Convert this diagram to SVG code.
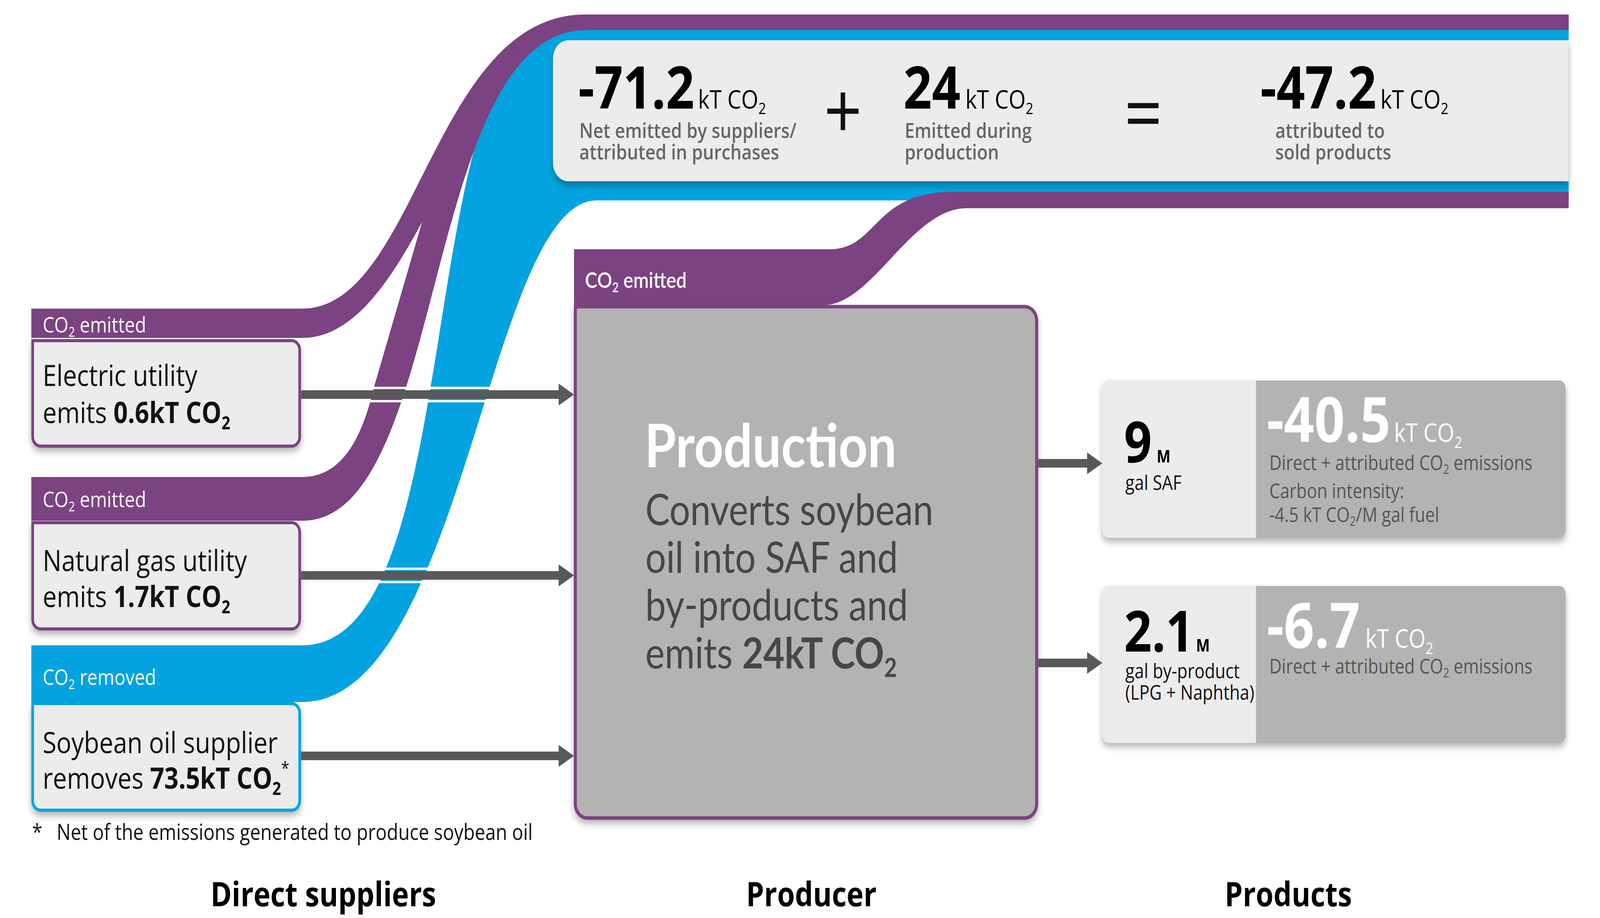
<svg xmlns="http://www.w3.org/2000/svg" width="4800" height="2350" viewBox="0 0 4800 2350" preserveAspectRatio="none">
<defs>
<style>
svg{width:100vw;height:100vh;display:block}
text{font-family:"Open Sans","Noto Sans","DejaVu Sans",sans-serif}
.lato{font-family:Lato,"Open Sans","Noto Sans",sans-serif}
.purple{fill:#7b4381}
.blue{fill:#02a3e0}
.lbl{font-size:55px;fill:#fff}
.sup{font-size:75px;fill:#111}
.big{font-size:150px;font-weight:700;fill:#000}
.unit{font-size:66px;fill:#000}
.desc{font-size:53px;font-weight:600;fill:#666}
.op{font-size:200px;fill:#111;text-anchor:middle}
.pdesc{font-size:51px;fill:#555}
.pbig{font-size:160px;font-weight:700;fill:#fff}
.punit{font-size:66px;fill:#fff}
.qty{font-size:146px;font-weight:700;fill:#000}
.qm{font-size:44px;font-weight:700;fill:#000}
.qd{font-size:51px;fill:#111}
.title{font-size:86px;font-weight:700;fill:#000;text-anchor:middle}
.arrow{stroke:#595959;stroke-width:22;fill:none}
.halo{stroke:#fff;stroke-width:6;fill:none}
.sbox{fill:#ececec;stroke-width:8}
</style>
<marker id="head" markerUnits="userSpaceOnUse" markerWidth="46" markerHeight="56" refX="2" refY="28" orient="auto"><path d="M0,0 L46,28 L0,56 Z" fill="#595959"/></marker>
<filter id="sh" x="-5%" y="-5%" width="110%" height="125%"><feDropShadow dx="0" dy="10" stdDeviation="9" flood-color="#000" flood-opacity="0.3"/></filter>
</defs>
<rect width="4800" height="2350" fill="#fff"/>

<g id="flows">
<path class="blue" d="M94,1652 L907,1652 C1420,1652 1225,60 1700,60 L4706,60 L4706,513 L1790,513 C1468,513 1387,1797 907,1797 L94,1797 Z"/>
<path class="purple" d="M94,790 L907,790 C1250,790 1298,37 1757,37 L4706,37 L4706,77 L1728,77 C1394,77 1264,865 907,865 L94,865 Z"/>
<path class="purple" d="M94,1221 L907,1221 C1030,1221 1088,1115 1123,988 L1269,560 C1330,380 1520,40 1745,40 L4706,40 L4706,77 L1760,77 C1262,77 1345,1333 907,1333 L94,1333 Z"/>
<path class="purple" d="M1722,638 L2490,638 C2633,638 2618,491 2860,491 L4706,491 L4706,533 L2900,533 C2733,533 2618,781 2470,781 L1722,781 Z"/>
<text class="lbl" x="128" y="851">CO<tspan font-size="34" dy="11">2</tspan><tspan dy="-11"> emitted</tspan></text>
<text class="lbl" x="128" y="1298">CO<tspan font-size="34" dy="11">2</tspan><tspan dy="-11"> emitted</tspan></text>
<text class="lbl" x="128" y="1753">CO<tspan font-size="34" dy="11">2</tspan><tspan dy="-11"> removed</tspan></text>
<text class="lato" x="1755" y="737" font-size="56" font-weight="600" fill="#fff">CO<tspan font-size="34" dy="11">2</tspan><tspan dy="-11"> emitted</tspan></text>
</g>

<g id="summary">
<path d="M1705,103 L4706,103 L4706,464 L1705,464 A46,46 0 0 1 1659,418 L1659,149 A46,46 0 0 1 1705,103 Z" fill="#ececec" filter="url(#sh)"/>
<text class="big" x="1735" y="278">-71.2</text>
<text class="unit" x="2094" y="278">kT CO<tspan font-size="40" dy="14">2</tspan></text>
<text class="desc" x="1738" y="353">Net emitted by suppliers/</text>
<text class="desc" x="1738" y="408">attributed in purchases</text>
<text class="op" x="2529" y="355">+</text>
<text class="big" x="2710" y="278">24</text>
<text class="unit" x="2896" y="278">kT CO<tspan font-size="40" dy="14">2</tspan></text>
<text class="desc" x="2714" y="353">Emitted during</text>
<text class="desc" x="2714" y="408">production</text>
<text class="op" x="3430" y="361">=</text>
<text class="big" x="3781" y="278">-47.2</text>
<text class="unit" x="4141" y="278">kT CO<tspan font-size="40" dy="14">2</tspan></text>
<text class="desc" x="3826" y="353">attributed to</text>
<text class="desc" x="3826" y="408">sold products</text>
</g>

<g id="electric-utility">
<path class="sbox" stroke="#7b4381" filter="url(#sh)" d="M98,872 L875,872 A24,24 0 0 1 899,896 L899,1118 A24,24 0 0 1 875,1142 L122,1142 A24,24 0 0 1 98,1118 Z"/>
<text class="sup" x="128" y="988">Electric utility</text>
<text class="sup" x="128" y="1083">emits <tspan font-weight="700">0.6kT CO<tspan font-size="46" dy="16">2</tspan></tspan></text>
</g>

<g id="natural-gas-utility">
<path class="sbox" stroke="#7b4381" filter="url(#sh)" d="M98,1338 L875,1338 A24,24 0 0 1 899,1362 L899,1586 A24,24 0 0 1 875,1610 L122,1610 A24,24 0 0 1 98,1586 Z"/>
<text class="sup" x="128" y="1462">Natural gas utility</text>
<text class="sup" x="128" y="1554">emits <tspan font-weight="700">1.7kT CO<tspan font-size="46" dy="16">2</tspan></tspan></text>
</g>

<g id="soybean-oil-supplier">
<path class="sbox" stroke="#02a3e0" filter="url(#sh)" d="M98,1801 L875,1801 A24,24 0 0 1 899,1825 L899,2050 A24,24 0 0 1 875,2074 L122,2074 A24,24 0 0 1 98,2050 Z"/>
<text class="sup" x="128" y="1928">Soybean oil supplier</text>
<text class="sup" x="128" y="2019">removes <tspan font-weight="700">73.5kT CO<tspan font-size="46" dy="16">2</tspan></tspan><tspan font-size="45" dy="-52">*</tspan></text>
</g>

<g id="production">
<path d="M1726,785 L3074,785 A36,36 0 0 1 3110,821 L3110,2058 A36,36 0 0 1 3074,2094 L1762,2094 A36,36 0 0 1 1726,2058 Z" fill="#b3b3b3" stroke="#7b4381" stroke-width="9" filter="url(#sh)"/>
<text class="lato" x="1934" y="1196" font-size="153" font-weight="700" fill="#fff">Production</text>
<text class="lato" font-size="110" fill="#464646"><tspan x="1936" y="1344">Converts soybean</tspan><tspan x="1936" y="1466">oil into SAF and</tspan><tspan x="1936" y="1588">by-products and</tspan><tspan x="1936" y="1711">emits <tspan font-weight="700">24kT CO<tspan font-size="66" dy="22">2</tspan></tspan></tspan></text>
</g>

<g id="saf-product">
<rect x="3307" y="974" width="1390" height="403" rx="20" fill="#b3b3b3" filter="url(#sh)"/>
<path d="M3327,974 L3768,974 L3768,1377 L3327,1377 A20,20 0 0 1 3307,1357 L3307,994 A20,20 0 0 1 3327,974 Z" fill="#ececec"/>
<text class="qty" x="3372" y="1184">9</text>
<text class="qm" x="3470" y="1184">M</text>
<text class="qd" x="3376" y="1254">gal SAF</text>
<text class="pbig" x="3800" y="1131">-40.5</text>
<text class="punit" x="4182" y="1131">kT CO<tspan font-size="40" dy="16">2</tspan></text>
<text class="pdesc" x="3808" y="1203">Direct + attributed CO<tspan font-size="32" dy="10">2</tspan><tspan dy="-10"> emissions</tspan></text>
<text class="pdesc" x="3808" y="1275">Carbon intensity:</text>
<text class="pdesc" x="3808" y="1336">-4.5 kT CO<tspan font-size="32" dy="10">2</tspan><tspan dy="-10">/M gal fuel</tspan></text>
</g>

<g id="byproduct">
<rect x="3307" y="1500" width="1390" height="402" rx="20" fill="#b3b3b3" filter="url(#sh)"/>
<path d="M3327,1500 L3768,1500 L3768,1902 L3327,1902 A20,20 0 0 1 3307,1882 L3307,1520 A20,20 0 0 1 3327,1500 Z" fill="#ececec"/>
<text class="qty" x="3372" y="1668">2.1</text>
<text class="qm" x="3588" y="1668">M</text>
<text class="qd" x="3376" y="1736">gal by-product</text>
<text class="qd" x="3376" y="1791" font-size="44">(LPG + Naphtha)</text>
<text class="pbig" x="3800" y="1658">-6.7</text>
<text class="punit" x="4096" y="1658">kT CO<tspan font-size="40" dy="16">2</tspan></text>
<text class="pdesc" x="3808" y="1724">Direct + attributed CO<tspan font-size="32" dy="10">2</tspan><tspan dy="-10"> emissions</tspan></text>
</g>

<g id="connectors">
<line class="halo" x1="1000" y1="993" x2="1600" y2="993"/>
<line class="halo" x1="1000" y1="1027" x2="1600" y2="1027"/>
<line class="halo" x1="1000" y1="1456" x2="1600" y2="1456"/>
<line class="halo" x1="1000" y1="1490" x2="1600" y2="1490"/>
<line class="arrow" marker-end="url(#head)" x1="903" y1="1010" x2="1678" y2="1010"/>
<line class="arrow" marker-end="url(#head)" x1="903" y1="1473" x2="1678" y2="1473"/>
<line class="arrow" marker-end="url(#head)" x1="903" y1="1935" x2="1678" y2="1935"/>
<line class="arrow" marker-end="url(#head)" x1="3114" y1="1186" x2="3263" y2="1186"/>
<line class="arrow" marker-end="url(#head)" x1="3114" y1="1697" x2="3263" y2="1697"/>
</g>

<g id="footnote">
<text x="96" y="2150" font-size="56" fill="#111">*</text>
<text x="170" y="2150" font-size="56" fill="#111">Net of the emissions generated to produce soybean oil</text>
</g>

<g id="titles">
<text class="title" x="970" y="2320">Direct suppliers</text>
<text class="title" x="2434" y="2320">Producer</text>
<text class="title" x="3865" y="2320">Products</text>
</g>
</svg>
